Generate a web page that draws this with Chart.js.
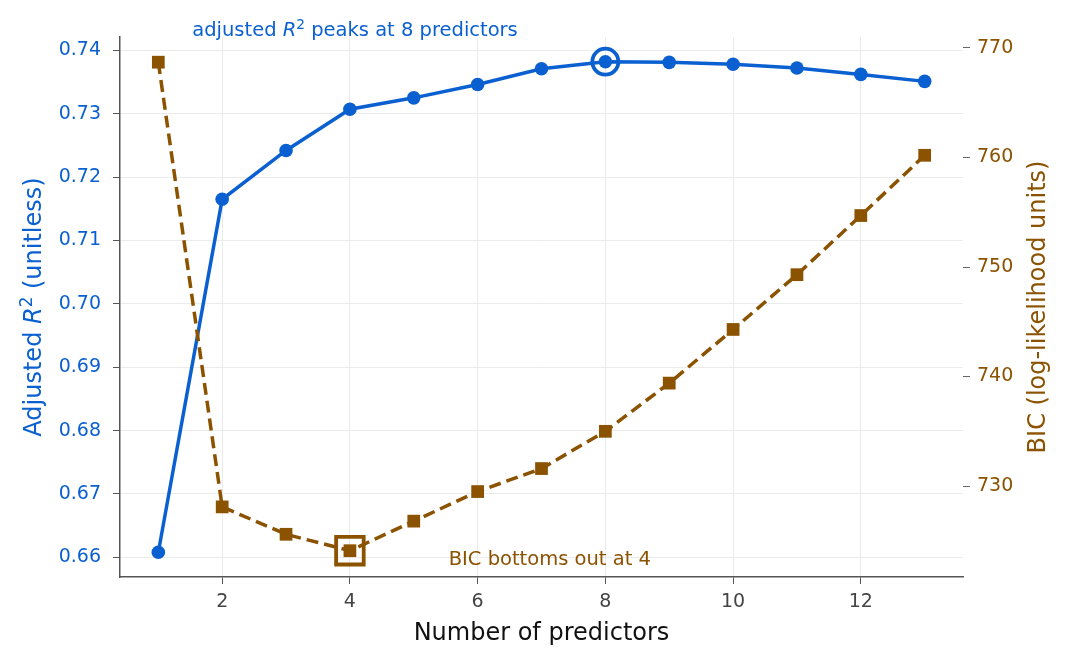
<!DOCTYPE html>
<html>
<head>
<meta charset="utf-8">
<script src="https://cdn.jsdelivr.net/npm/chart.js@4.4.1/dist/chart.umd.min.js"></script>
<style>
  body { margin: 0; background: #fff; }
  #wrap { width: 1068px; height: 662px; }
</style>
</head>
<body>
<div id="wrap"><canvas id="chart" width="1068" height="662"></canvas></div>
<script>
'use strict';

// values
const predictors = [1, 2, 3, 4, 5, 6, 7, 8, 9, 10, 11, 12, 13];
const adjR2 = [0.6608, 0.7165, 0.7242, 0.7307, 0.7325, 0.7346, 0.7371, 0.7382, 0.7381, 0.7378, 0.7372, 0.7362, 0.7351];
const bic = [768.7, 728.1, 725.6, 724.1, 726.8, 729.5, 731.6, 735.0, 739.4, 744.3, 749.3, 754.7, 760.2];

const xTicks = [2, 4, 6, 8, 10, 12];
const r2Ticks = [0.66, 0.67, 0.68, 0.69, 0.70, 0.71, 0.72, 0.73, 0.74];
const bicTicks = [730, 740, 750, 760, 770];

const BLUE = '#0a60d0';
const BROWN = '#8b5200';
const FONT = "'DejaVu Sans', sans-serif";

function toPoints(xs, ys) {
  return xs.map(function(x, i) {
    return { x: x, y: ys[i] };
  });
}

let bestR2 = adjR2.indexOf(Math.max.apply(null, adjR2));
let bestBic = bic.indexOf(Math.min.apply(null, bic));

// draws text made of pieces (normal / italic / superscript) centred on x
function drawRich(ctx, parts, x, y, size, color) {
  let widths = parts.map(function(p) {
    ctx.font = fontFor(p, size);
    return ctx.measureText(p.text).width;
  });
  let total = widths.reduce(function(a, b) { return a + b; }, 0);
  let cx = x - total / 2;
  ctx.fillStyle = color;
  ctx.textAlign = 'left';
  ctx.textBaseline = 'alphabetic';
  parts.forEach(function(p, i) {
    ctx.font = fontFor(p, size);
    ctx.fillText(p.text, cx, p.sup ? y - size * 0.38 : y);
    cx += widths[i];
  });
}

function fontFor(p, size) {
  let s = p.sup ? size * 0.7 : size;
  return (p.italic ? 'italic ' : '') + s + 'px ' + FONT;
}

const labelsPlugin = {
  id: 'labels',
  afterDraw: function(chart) {
    let ctx = chart.ctx;
    let area = chart.chartArea;
    let xs = chart.scales.x;
    let yl = chart.scales.yL;
    let midY = (area.top + area.bottom) / 2;

    ctx.save();
    // x title
    drawRich(ctx, [{ text: 'Number of predictors' }], (area.left + area.right) / 2, 640, 24, '#111');

    // left title
    ctx.save();
    ctx.translate(41, midY);
    ctx.rotate(-Math.PI / 2);
    drawRich(ctx, [{ text: 'Adjusted ' }, { text: 'R', italic: true }, { text: '2', sup: true }, { text: ' (unitless)' }], 0, 0, 24, BLUE);
    ctx.restore();

    // right title
    ctx.save();
    ctx.translate(1045, midY);
    ctx.rotate(-Math.PI / 2);
    drawRich(ctx, [{ text: 'BIC (log-likelihood units)' }], 0, 0, 24, BROWN);
    ctx.restore();

    // annotations
    drawRich(ctx, [{ text: 'adjusted ' }, { text: 'R', italic: true }, { text: '2', sup: true }, { text: ' peaks at 8 predictors' }],
      xs.getPixelForValue(4.08), area.top - 1, 19.5, BLUE);
    drawRich(ctx, [{ text: 'BIC bottoms out at 4' }],
      xs.getPixelForValue(7.13), yl.getPixelForValue(0.66) + 8, 19.5, BROWN);
    ctx.restore();
  }
};

let fixWidth = function(w) {
  return function(scale) { scale.width = w; };
};

let setTicks = function(values) {
  return function(scale) {
    scale.ticks = values.map(function(v) { return { value: v }; });
  };
};

let myChart = new Chart(document.getElementById('chart'), {
  type: 'line',
  data: {
    datasets: [
      {
        data: [{ x: predictors[bestBic], y: bic[bestBic] }],
        yAxisID: 'yR',
        showLine: false,
        pointStyle: 'rect',
        pointRadius: 19.5,
        pointBorderWidth: 3.8,
        pointBorderColor: BROWN,
        pointBackgroundColor: 'rgba(0,0,0,0)'
      },
      {
        data: toPoints(predictors, bic),
        yAxisID: 'yR',
        borderColor: BROWN,
        borderWidth: 3.5,
        borderDash: [12, 6],
        pointStyle: 'rect',
        pointRadius: 9,
        pointBorderWidth: 0,
        pointBackgroundColor: BROWN
      },
      {
        data: [{ x: predictors[bestR2], y: adjR2[bestR2] }],
        yAxisID: 'yL',
        showLine: false,
        pointRadius: 13,
        pointBorderWidth: 3.8,
        pointBorderColor: BLUE,
        pointBackgroundColor: 'rgba(0,0,0,0)'
      },
      {
        data: toPoints(predictors, adjR2),
        yAxisID: 'yL',
        borderColor: BLUE,
        borderWidth: 3.5,
        pointRadius: 6.8,
        pointBorderWidth: 0,
        pointBackgroundColor: BLUE
      }
    ]
  },
  options: {
    responsive: false,
    animation: false,
    events: [],
    layout: { padding: { top: 37, left: 0, right: 0, bottom: 0 } },
    plugins: { legend: { display: false }, tooltip: { enabled: false } },
    scales: {
      x: {
        type: 'linear',
        min: 0.4,
        max: 13.6,
        afterBuildTicks: setTicks(xTicks),
        afterFit: function(scale) { scale.height = 85; },
        border: { color: '#555', width: 1.5 },
        grid: { color: '#ebebeb', tickColor: '#555', tickLength: 7 },
        ticks: { color: '#444', font: { family: FONT, size: 19 }, padding: 7 }
      },
      yL: {
        position: 'left',
        min: 0.6569,
        max: 0.7421,
        afterBuildTicks: setTicks(r2Ticks),
        afterFit: fixWidth(120),
        border: { color: '#555', width: 1.5 },
        grid: { color: '#ebebeb', tickColor: '#555', tickLength: 7 },
        ticks: {
          color: BLUE,
          font: { family: FONT, size: 19 },
          padding: 12,
          callback: function(v) { return v.toFixed(2); }
        }
      },
      yR: {
        position: 'right',
        min: 721.7,
        max: 771.0,
        afterBuildTicks: setTicks(bicTicks),
        afterFit: fixWidth(105),
        border: { display: false },
        grid: { drawOnChartArea: false, tickColor: '#666', tickLength: 7 },
        ticks: { color: BROWN, font: { family: FONT, size: 19 }, padding: 7 }
      }
    }
  },
  plugins: [labelsPlugin]
});
</script>
</body>
</html>
